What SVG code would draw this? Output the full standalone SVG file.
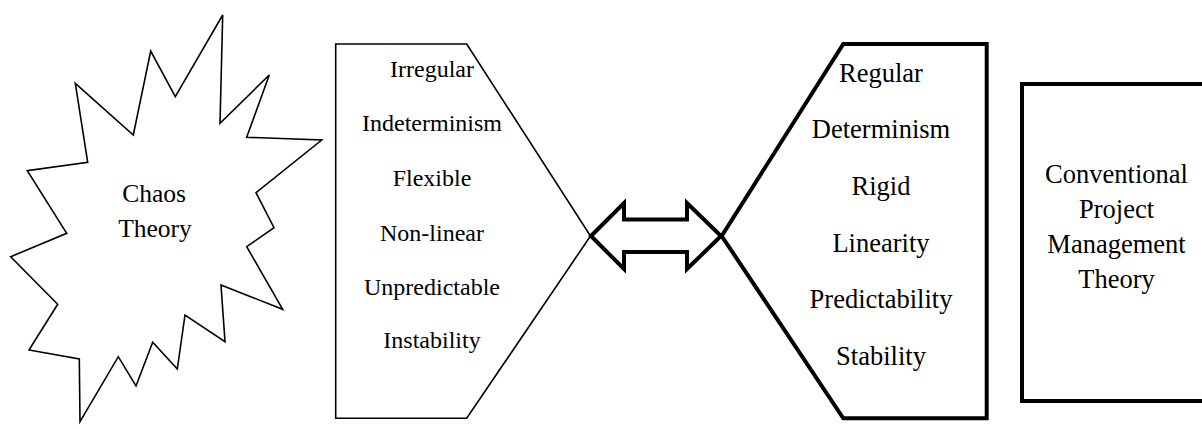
<svg xmlns="http://www.w3.org/2000/svg" width="1202" height="429" viewBox="0 0 1202 429" font-family="'Liberation Serif', 'Times New Roman', serif">
<style>
  text { font-family: "Liberation Serif", "Times New Roman", serif; fill: #000; text-anchor: middle; }
  .thin { fill: #fff; stroke: #000; stroke-width: 1.6; stroke-linejoin: miter; }
  .thick { fill: #fff; stroke: #000; stroke-width: 4; stroke-linejoin: miter; }
</style>
<rect width="1202" height="429" fill="#fff"/>
<g id="chaos">
  <polygon class="thin" stroke-width="2" points="222.7,15 220,123.3 269.3,75 246.7,137.3 321.7,140 256,192.7 274,227.7 246.7,246.7 282.7,309.3 221,285 225,341.7 185,315 177.3,369 152.7,342.3 136,386 118.3,356.7 80,421.7 79.3,359 29,350 57.7,304.3 10.7,256.7 66.7,233.3 27.3,170.7 87.7,162.3 75.3,83.3 133.3,135 150.7,51 175.3,96.7"/>
  <text font-size="25.5" x="154" y="201.5">Chaos</text>
  <text font-size="25.5" x="155" y="236.5">Theory</text>
</g>
<g id="chaos-traits">
  <polygon class="thin" points="335.7,44 466.7,44 590.5,236 466.7,418.3 335.7,418.3"/>
  <g font-size="24">
    <text x="432" y="77.3">Irregular</text>
    <text x="432" y="131">Indeterminism</text>
    <text x="432" y="186">Flexible</text>
    <text x="432" y="240.5">Non-linear</text>
    <text x="432" y="294.5">Unpredictable</text>
    <text x="432" y="347.7">Instability</text>
  </g>
</g>
<g id="conventional-traits">
  <polygon class="thick" points="843.3,44 986.7,44 986.7,418.3 843.3,418.3 721.7,236"/>
  <g font-size="26.5">
    <text x="881" y="81.7">Regular</text>
    <text x="881" y="138.3">Determinism</text>
    <text x="881" y="195">Rigid</text>
    <text x="881" y="251.7">Linearity</text>
    <text x="881" y="308.3">Predictability</text>
    <text x="881" y="365">Stability</text>
  </g>
</g>
<g id="conventional">
  <rect class="thick" x="1022" y="84" width="190" height="317"/>
  <g font-size="26.5">
    <text x="1116.5" y="183">Conventional</text>
    <text x="1116.5" y="218">Project</text>
    <text x="1116.5" y="253">Management</text>
    <text x="1116.5" y="288">Theory</text>
  </g>
</g>
<g id="connectors">
  <polygon class="thick" points="591,236 624,203 624,219.5 687,219.5 687,203 721,236 687,269 687,252 624,252 624,269"/>
</g>
</svg>
